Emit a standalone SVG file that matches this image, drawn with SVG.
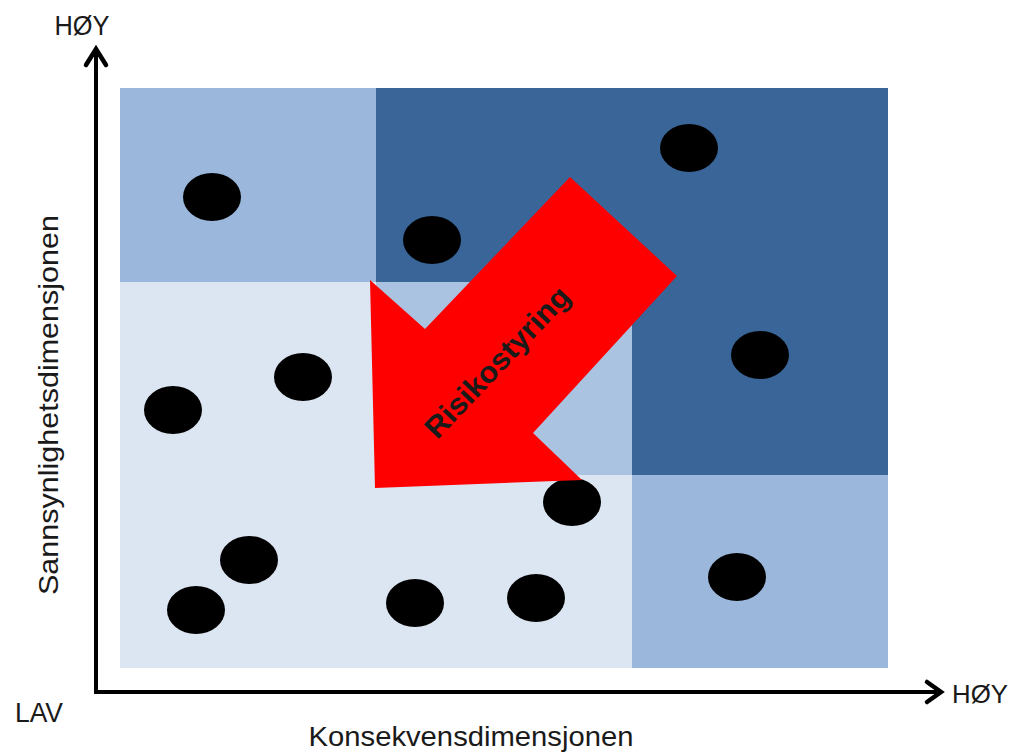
<svg xmlns="http://www.w3.org/2000/svg" width="1014" height="753" viewBox="0 0 1014 753">
  <style>
    .lbl { font-family: "Liberation Sans", Arial, sans-serif; fill: #1a1a1a; }
    .dot { fill: #000000; }
    .axis { stroke: #000000; stroke-width: 4; fill: none; }
    .head { stroke: #000000; stroke-width: 4.5; fill: none; stroke-linecap: round; stroke-linejoin: miter; }
  </style>
  <rect width="1014" height="753" fill="#ffffff"/>
  <g id="matrix">
    <rect x="120" y="282" width="512" height="386" fill="#dce5f2"/>
    <rect x="120" y="88" width="256" height="194" fill="#9bb8dc"/>
    <rect x="376" y="282" width="256" height="193" fill="#a9c3e1"/>
    <rect x="632" y="475" width="256" height="193" fill="#9bb8dc"/>
    <rect x="376" y="88" width="512" height="194" fill="#3a6598"/>
    <rect x="632" y="282" width="256" height="193" fill="#3a6598"/>
  </g>
  <g id="points">
    <ellipse class="dot" cx="212" cy="197" rx="29" ry="24"/>
    <ellipse class="dot" cx="432" cy="240" rx="29" ry="24"/>
    <ellipse class="dot" cx="689" cy="148" rx="29" ry="24"/>
    <ellipse class="dot" cx="760" cy="355" rx="29" ry="24"/>
    <ellipse class="dot" cx="303" cy="377" rx="29" ry="24"/>
    <ellipse class="dot" cx="173" cy="410" rx="29" ry="24"/>
    <ellipse class="dot" cx="572" cy="502" rx="29" ry="24"/>
    <ellipse class="dot" cx="249" cy="560" rx="29" ry="24"/>
    <ellipse class="dot" cx="196" cy="610" rx="29" ry="24"/>
    <ellipse class="dot" cx="415" cy="603" rx="29" ry="24"/>
    <ellipse class="dot" cx="536" cy="598" rx="29" ry="24"/>
    <ellipse class="dot" cx="737" cy="577" rx="29" ry="24"/>
  </g>
  <g id="risikostyring">
    <polygon points="570,177 677,276 533,433 582,480 375,488 370,280 425,329" fill="#ff0000"/>
    <text class="lbl" x="0" y="0" transform="translate(497,362) rotate(-46.5)" text-anchor="middle" dominant-baseline="central" font-size="30" font-weight="bold" textLength="196" lengthAdjust="spacingAndGlyphs" fill="#111111">Risikostyring</text>
  </g>
  <g id="connectors">
    <polyline class="axis" points="96,52 96,692 937,692"/>
    <polyline class="head" points="86,65 96,49 106,65"/>
    <polyline class="head" points="927,682 941,692 927,702"/>
  </g>
  <g id="labels">
    <text class="lbl" x="82" y="35" text-anchor="middle" font-size="27" textLength="55" lengthAdjust="spacingAndGlyphs">HØY</text>
    <text class="lbl" x="980" y="703" text-anchor="middle" font-size="25" textLength="56" lengthAdjust="spacingAndGlyphs">HØY</text>
    <text class="lbl" x="39" y="722" text-anchor="middle" font-size="27" textLength="48" lengthAdjust="spacingAndGlyphs">LAV</text>
    <text class="lbl" x="471" y="746" text-anchor="middle" font-size="28" textLength="325" lengthAdjust="spacingAndGlyphs">Konsekvensdimensjonen</text>
    <text class="lbl" x="0" y="0" transform="translate(58,405) rotate(-90)" text-anchor="middle" font-size="28" textLength="380" lengthAdjust="spacingAndGlyphs">Sannsynlighetsdimensjonen</text>
  </g>
</svg>
